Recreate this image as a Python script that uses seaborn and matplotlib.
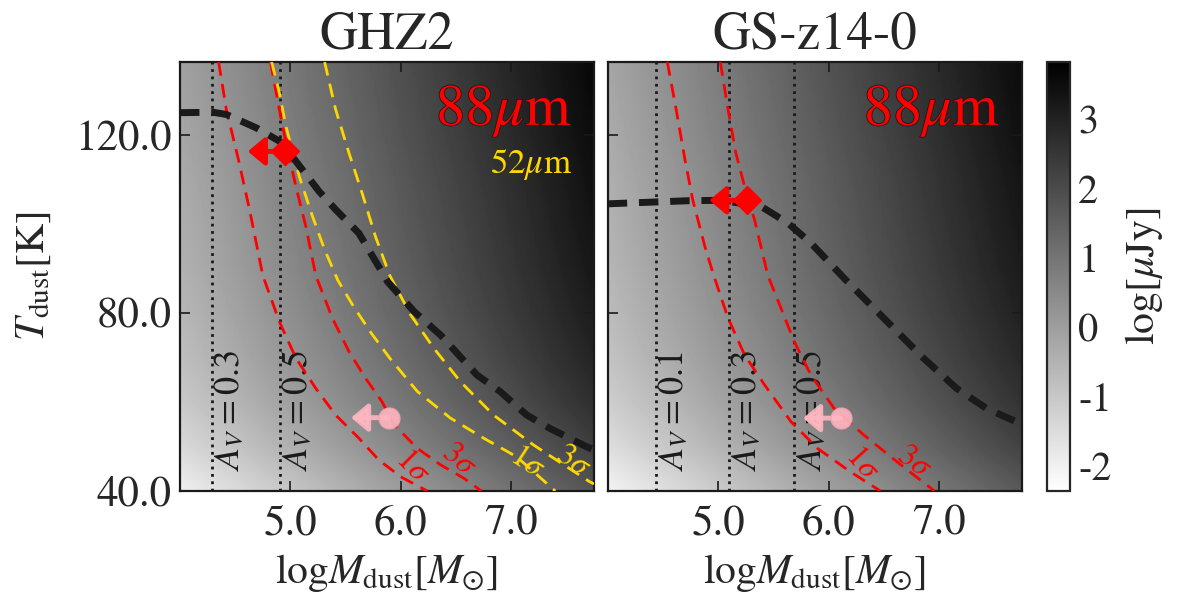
import numpy as np
import matplotlib
matplotlib.use('Agg')
import matplotlib.pyplot as plt
import matplotlib.patheffects as pe
from matplotlib.ticker import FormatStrFormatter
import seaborn as sns

# shading: log flux [uJy] at the two logM edges, for each T_dust node
mdust_edges = [4.0, 7.75]
tdust_nodes = [40, 50, 60, 70, 80, 90, 100, 110, 120, 130, 140]
flux_ghz2_lo = [-2.00, -1.45, -1.07, -0.81, -0.63, -0.50, -0.41, -0.33, -0.23, -0.15, -0.08]
flux_ghz2_hi = [1.75, 2.30, 2.68, 2.94, 3.12, 3.25, 3.34, 3.42, 3.52, 3.60, 3.67]
flux_gs14_lo = [-2.10, -1.55, -1.17, -0.91, -0.73, -0.60, -0.51, -0.43, -0.33, -0.25, -0.18]
flux_gs14_hi = [1.65, 2.20, 2.58, 2.84, 3.02, 3.15, 3.24, 3.32, 3.42, 3.50, 3.57]

# GHZ2
ghz2_track_m = [4.00, 4.30, 4.42, 4.69, 4.90, 5.04, 5.26, 5.41, 5.62, 5.80, 5.88, 6.12, 6.36, 6.69, 6.90, 7.14, 7.35, 7.68, 7.75]
ghz2_track_t = [125.1, 125.2, 124.7, 121.7, 118.7, 114.5, 107.4, 103.3, 98.0, 90.5, 87.1, 80.4, 75.1, 66.1, 62.4, 57.1, 54.1, 50.0, 49.3]
ghz2_r1_m = [4.35, 4.42, 4.53, 4.63, 4.75, 4.90, 5.05, 5.23, 5.41, 5.62, 5.80, 6.00, 6.24]
ghz2_r1_t = [136.5, 125.8, 114.5, 103.3, 88.5, 78.1, 69.9, 63.1, 57.1, 51.9, 47.0, 43.2, 40.0]
ghz2_r3_m = [4.82, 4.90, 4.96, 5.05, 5.14, 5.23, 5.38, 5.53, 5.68, 5.83, 5.94, 6.15, 6.36, 6.57, 6.73]
ghz2_r3_t = [136.5, 125.8, 118.3, 108.5, 99.5, 88.5, 78.9, 71.4, 65.4, 60.1, 54.9, 49.6, 45.9, 42.9, 40.0]
ghz2_y1_m = [4.83, 4.90, 4.96, 5.08, 5.20, 5.31, 5.43, 5.57, 5.73, 5.90, 6.15, 6.45, 6.75, 7.05, 7.40]
ghz2_y1_t = [136.5, 129.6, 122.0, 110.8, 101.8, 94.3, 87.4, 81.6, 75.6, 69.9, 62.4, 56.4, 51.9, 47.7, 40.0]
ghz2_y3_m = [5.31, 5.41, 5.53, 5.65, 5.77, 5.90, 6.09, 6.30, 6.54, 6.84, 7.20, 7.71, 7.75]
ghz2_y3_t = [136.5, 125.8, 116.1, 107.0, 97.3, 88.5, 79.6, 72.1, 64.6, 57.1, 50.4, 42.1, 41.6]
ghz2_av_m = [4.29, 4.91]
ghz2_av_lab = ['0.3', '0.5']
ghz2_det = (4.955, 116.4)
ghz2_lim = (5.89, 56.5)

# GS-z14-0
gs14_track_m = [4.00, 4.73, 5.03, 5.39, 5.63, 5.84, 6.14, 6.32, 6.56, 6.86, 7.16, 7.43, 7.70, 7.75]
gs14_track_t = [104.6, 105.3, 105.4, 104.0, 100.3, 95.8, 87.9, 83.4, 77.4, 69.9, 63.1, 58.6, 55.6, 55.0]
gs14_r1_m = [4.54, 4.62, 4.70, 4.77, 4.88, 4.96, 5.09, 5.24, 5.42, 5.66, 5.90, 6.20, 6.47]
gs14_r1_t = [136.5, 125.8, 114.5, 105.5, 95.0, 88.5, 78.9, 70.6, 63.9, 55.6, 49.6, 44.3, 40.0]
gs14_r3_m = [5.02, 5.09, 5.16, 5.24, 5.33, 5.45, 5.57, 5.69, 5.84, 6.05, 6.32, 6.62, 6.96]
gs14_r3_t = [136.5, 125.8, 116.1, 108.5, 101.0, 88.5, 81.1, 73.6, 66.1, 58.6, 52.6, 46.6, 40.0]
gs14_av_m = [4.44, 5.10, 5.69]
gs14_av_lab = ['0.1', '0.3', '0.5']
gs14_det = (5.26, 105.4)
gs14_lim = (6.11, 56.4)

sns.set_theme(style='ticks')
plt.rcParams['font.family'] = ['serif']
plt.rcParams['font.serif'] = ['STIXGeneral', 'Liberation Serif', 'DejaVu Serif']
plt.rcParams['mathtext.fontset'] = 'stix'
plt.rcParams['axes.unicode_minus'] = False

vmin, vmax = -2.36, 3.82
fig = plt.figure(figsize=(11.78, 5.98), dpi=100)
ax1 = fig.add_axes([0.1528, 0.1789, 0.3514, 0.7174])
ax2 = fig.add_axes([0.5159, 0.1789, 0.3514, 0.7174])
cax = fig.add_axes([0.8888, 0.1789, 0.0195, 0.7174])

# pixel centres sit on the nodes so bilinear resampling runs between them
dm = mdust_edges[1] - mdust_edges[0]
dt = tdust_nodes[1] - tdust_nodes[0]
extent = [mdust_edges[0] - dm / 2, mdust_edges[1] + dm / 2,
          tdust_nodes[0] - dt / 2, tdust_nodes[-1] + dt / 2]


def arrow(ax, pos, color, alpha=1.0):
    ax.annotate('', xy=(pos[0] - 0.34, pos[1]), xytext=pos,
                arrowprops=dict(arrowstyle='-|>,head_length=0.5,head_width=0.42',
                                mutation_scale=20, color=color, lw=3.5, alpha=alpha,
                                shrinkA=0, shrinkB=0), zorder=6)


def sigma_line(ax, m, t, color):
    sns.lineplot(x=m, y=t, ax=ax, sort=False, color=color, lw=2.0,
                 linestyle=(0, (5, 3)), zorder=3)


def panel(ax, lo, hi, track_m, track_t, av_m, av_lab, det, lim, title):
    img = ax.imshow(np.column_stack([lo, hi]), origin='lower', extent=extent,
                    aspect='auto', interpolation='bilinear', cmap='gray_r',
                    vmin=vmin, vmax=vmax, zorder=0)
    for xm, lab in zip(av_m, av_lab):
        ax.axvline(xm, color='k', ls=':', lw=2, zorder=2)
        ax.text(xm + 0.165, 44.5, r'$A_V=%s$' % lab, rotation=90, ha='center',
                va='bottom', fontsize=26, color='k', zorder=2)
    sns.lineplot(x=track_m, y=track_t, ax=ax, sort=False, color='k', lw=5,
                 linestyle=(0, (2.8, 1.7)), zorder=4)
    arrow(ax, det, 'red')
    ax.plot([det[0]], [det[1]], marker='D', ms=14, color='red', zorder=7)
    arrow(ax, lim, '#ffb6c1', alpha=0.9)
    ax.plot([lim[0]], [lim[1]], marker='o', ms=15, color='#ffb6c1', alpha=0.9,
            mec='#f4a3b3', zorder=7)
    ax.text(0.948, 0.853, r'$88\mu{\rm m}$', transform=ax.transAxes, ha='right',
            va='baseline', fontsize=42, color='red', zorder=8,
            path_effects=[pe.Stroke(linewidth=1.2, foreground='k'), pe.Normal()])
    ax.set_xlim(4.0, 7.75)
    ax.set_ylim(40, 136.5)
    ax.set_xticks([5, 6, 7])
    ax.set_yticks([40, 80, 120])
    ax.xaxis.set_major_formatter(FormatStrFormatter('%.1f'))
    ax.yaxis.set_major_formatter(FormatStrFormatter('%.1f'))
    ax.tick_params(direction='in', top=True, right=True, length=7, width=1.2,
                   labelsize=31, color='k')
    ax.tick_params(axis='x', pad=10)
    ax.tick_params(axis='y', pad=6)
    for s in ax.spines.values():
        s.set_linewidth(1.6)
        s.set_color('k')
    ax.set_xlabel(r'${\rm log}M_{\rm dust}[M_{\odot}]$', fontsize=30, labelpad=6)
    ax.set_title(title, fontsize=38, pad=10)
    return img


img = panel(ax1, flux_ghz2_lo, flux_ghz2_hi, ghz2_track_m, ghz2_track_t,
            ghz2_av_m, ghz2_av_lab, ghz2_det, ghz2_lim, 'GHZ2')
sigma_line(ax1, ghz2_r1_m, ghz2_r1_t, 'red')
sigma_line(ax1, ghz2_r3_m, ghz2_r3_t, 'red')
sigma_line(ax1, ghz2_y1_m, ghz2_y1_t, 'gold')
sigma_line(ax1, ghz2_y3_m, ghz2_y3_t, 'gold')
ax1.text(6.10, 45.6, r'$1\sigma$', color='red', rotation=-45, fontsize=23, ha='center', va='center')
ax1.text(6.52, 47.0, r'$3\sigma$', color='red', rotation=-40, fontsize=23, ha='center', va='center')
ax1.text(7.14, 46.5, r'$1\sigma$', color='gold', rotation=-33, fontsize=23, ha='center', va='center')
ax1.text(7.56, 46.6, r'$3\sigma$', color='gold', rotation=-33, fontsize=23, ha='center', va='center')
ax1.text(0.948, 0.741, r'$52\mu{\rm m}$', transform=ax1.transAxes, ha='right',
         va='baseline', fontsize=25, color='gold', zorder=8)
ax1.set_ylabel(r'$T_{\rm dust}[{\rm K}]$', fontsize=30, labelpad=16)

panel(ax2, flux_gs14_lo, flux_gs14_hi, gs14_track_m, gs14_track_t,
      gs14_av_m, gs14_av_lab, gs14_det, gs14_lim, 'GS-z14-0')
sigma_line(ax2, gs14_r1_m, gs14_r1_t, 'red')
sigma_line(ax2, gs14_r3_m, gs14_r3_t, 'red')
ax2.text(6.30, 46.2, r'$1\sigma$', color='red', rotation=-48, fontsize=23, ha='center', va='center')
ax2.text(6.77, 46.6, r'$3\sigma$', color='red', rotation=-35, fontsize=23, ha='center', va='center')
ax2.set_yticklabels([])
ax2.set_ylabel('')

cb = fig.colorbar(img, cax=cax)
cb.set_ticks([-2, -1, 0, 1, 2, 3])
cb.ax.tick_params(direction='in', length=7, width=1.2, labelsize=29, pad=6)
cb.outline.set_linewidth(1.6)
cb.set_label(r'${\rm log}[\mu{\rm Jy}]$', fontsize=30, labelpad=8)

fig.savefig('out.png', dpi=100)
